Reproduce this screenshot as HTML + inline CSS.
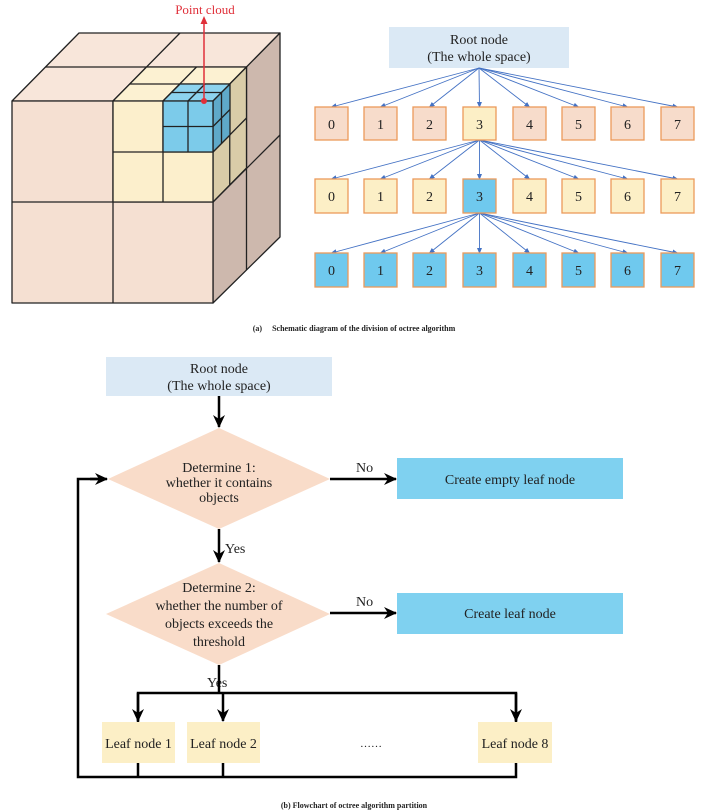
<!DOCTYPE html>
<html><head><meta charset="utf-8"><style>
html,body{margin:0;padding:0;background:#fff;}
svg{display:block;font-family:"Liberation Serif",serif;}
</style></head><body>
<svg width="708" height="812" viewBox="0 0 708 812" xmlns="http://www.w3.org/2000/svg">
<defs>
<marker id="ba" markerWidth="6" markerHeight="6" refX="5" refY="3" orient="auto" markerUnits="userSpaceOnUse"><path d="M0,0.5 L6,3 L0,5.5 z" fill="#4472c4"/></marker>
<marker id="ka" markerWidth="14" markerHeight="14" refX="12" refY="7" orient="auto" markerUnits="userSpaceOnUse"><path d="M0,1 L13,7 L0,13 L4,7 z" fill="#000"/></marker>
<marker id="ra" markerWidth="8" markerHeight="8" refX="4" refY="4" orient="auto" markerUnits="userSpaceOnUse"><path d="M0,0.5 L8,4 L0,7.5 z" fill="#e0303a"/></marker>
</defs>
<!-- Cube -->
<g stroke="#222" stroke-width="1.3" stroke-linejoin="round">
<polygon points="12,101 79,33 280,33 213,101" fill="#f8e6da"/>
<polygon points="213,101 280,33 280,237 213,303" fill="#cdb8ad"/>
<rect x="12" y="101" width="201" height="202" fill="#f5e0d2"/>
<line x1="113" y1="101" x2="113" y2="303"/>
<line x1="12" y1="202" x2="213" y2="202"/>
<line x1="45.5" y1="67" x2="246.5" y2="67"/>
<line x1="113" y1="101" x2="180" y2="33"/>
<line x1="246.5" y1="67" x2="246.5" y2="270"/>
<line x1="213" y1="202" x2="280" y2="135"/>
<polygon points="113,101 146.5,67 246.5,67 213,101" fill="#fcf1d2"/>
<polygon points="213,101 246.5,67 246.5,168 213,202" fill="#d9cca8"/>
<rect x="113" y="101" width="100" height="101" fill="#fcefcc"/>
<line x1="163" y1="101" x2="163" y2="202"/>
<line x1="113" y1="152" x2="213" y2="152"/>
<line x1="129.75" y1="84" x2="229.75" y2="84"/>
<line x1="163" y1="101" x2="196.5" y2="67"/>
<line x1="229.75" y1="84" x2="229.75" y2="185"/>
<line x1="213" y1="152" x2="246.5" y2="118"/>
<polygon points="163,101 180,84 230,84 213,101" fill="#8dd3ee"/>
<polygon points="213,101 230,84 230,135 213,152" fill="#5fa9c9"/>
<rect x="163" y="101" width="50" height="51" fill="#7ccbea"/>
<line x1="188" y1="101" x2="188" y2="152"/>
<line x1="163" y1="126.5" x2="213" y2="126.5"/>
<line x1="171.5" y1="92.5" x2="221.5" y2="92.5"/>
<line x1="188" y1="101" x2="205" y2="84"/>
<line x1="221.5" y1="92.5" x2="221.5" y2="143.5"/>
<line x1="213" y1="126.5" x2="230" y2="109.5"/>
</g>
<line x1="204" y1="101" x2="204" y2="20" stroke="#e0303a" stroke-width="1.5" marker-end="url(#ra)"/>
<circle cx="204" cy="101" r="3" fill="#e0303a"/>
<text x="205" y="14" font-size="13" fill="#e0303a" text-anchor="middle">Point cloud</text>

<!-- Tree -->
<rect x="389" y="27" width="180" height="41" fill="#dbe9f5"/>
<text x="479" y="44" font-size="14" text-anchor="middle" fill="#222">Root node</text>
<text x="479" y="61" font-size="14" text-anchor="middle" fill="#222">(The whole space)</text>
<g stroke="#4472c4" stroke-width="0.9" marker-end="url(#ba)">
<line x1="479" y1="68" x2="331.5" y2="107"/><line x1="479" y1="68" x2="380.5" y2="107"/><line x1="479" y1="68" x2="429.5" y2="107"/><line x1="479" y1="68" x2="479.5" y2="107"/><line x1="479" y1="68" x2="529.5" y2="107"/><line x1="479" y1="68" x2="578.5" y2="107"/><line x1="479" y1="68" x2="627.5" y2="107"/><line x1="479" y1="68" x2="677.5" y2="107"/>
<line x1="479.5" y1="140" x2="331.5" y2="179"/><line x1="479.5" y1="140" x2="380.5" y2="179"/><line x1="479.5" y1="140" x2="429.5" y2="179"/><line x1="479.5" y1="140" x2="479.5" y2="179"/><line x1="479.5" y1="140" x2="529.5" y2="179"/><line x1="479.5" y1="140" x2="578.5" y2="179"/><line x1="479.5" y1="140" x2="627.5" y2="179"/><line x1="479.5" y1="140" x2="677.5" y2="179"/>
<line x1="479.5" y1="213" x2="331.5" y2="253"/><line x1="479.5" y1="213" x2="380.5" y2="253"/><line x1="479.5" y1="213" x2="429.5" y2="253"/><line x1="479.5" y1="213" x2="479.5" y2="253"/><line x1="479.5" y1="213" x2="529.5" y2="253"/><line x1="479.5" y1="213" x2="578.5" y2="253"/><line x1="479.5" y1="213" x2="627.5" y2="253"/><line x1="479.5" y1="213" x2="677.5" y2="253"/>
</g>
<g stroke="#ec9a5a" stroke-width="1.3">
<rect x="315" y="107" width="33" height="33" fill="#f7dccb"/><rect x="364" y="107" width="33" height="33" fill="#f7dccb"/><rect x="413" y="107" width="33" height="33" fill="#f7dccb"/><rect x="463" y="107" width="33" height="33" fill="#fcefc6"/><rect x="513" y="107" width="33" height="33" fill="#f7dccb"/><rect x="562" y="107" width="33" height="33" fill="#f7dccb"/><rect x="611" y="107" width="33" height="33" fill="#f7dccb"/><rect x="661" y="107" width="33" height="33" fill="#f7dccb"/>
<rect x="315" y="179" width="33" height="34" fill="#fcefc6"/><rect x="364" y="179" width="33" height="34" fill="#fcefc6"/><rect x="413" y="179" width="33" height="34" fill="#fcefc6"/><rect x="463" y="179" width="33" height="34" fill="#6fc9ee"/><rect x="513" y="179" width="33" height="34" fill="#fcefc6"/><rect x="562" y="179" width="33" height="34" fill="#fcefc6"/><rect x="611" y="179" width="33" height="34" fill="#fcefc6"/><rect x="661" y="179" width="33" height="34" fill="#fcefc6"/>
<rect x="315" y="253" width="33" height="34" fill="#6fc9ee"/><rect x="364" y="253" width="33" height="34" fill="#6fc9ee"/><rect x="413" y="253" width="33" height="34" fill="#6fc9ee"/><rect x="463" y="253" width="33" height="34" fill="#6fc9ee"/><rect x="513" y="253" width="33" height="34" fill="#6fc9ee"/><rect x="562" y="253" width="33" height="34" fill="#6fc9ee"/><rect x="611" y="253" width="33" height="34" fill="#6fc9ee"/><rect x="661" y="253" width="33" height="34" fill="#6fc9ee"/>
</g>
<g font-size="14" text-anchor="middle" fill="#222">
<text x="331.5" y="129">0</text><text x="380.5" y="129">1</text><text x="429.5" y="129">2</text><text x="479.5" y="129">3</text><text x="529.5" y="129">4</text><text x="578.5" y="129">5</text><text x="627.5" y="129">6</text><text x="677.5" y="129">7</text>
<text x="331.5" y="201">0</text><text x="380.5" y="201">1</text><text x="429.5" y="201">2</text><text x="479.5" y="201">3</text><text x="529.5" y="201">4</text><text x="578.5" y="201">5</text><text x="627.5" y="201">6</text><text x="677.5" y="201">7</text>
<text x="331.5" y="275">0</text><text x="380.5" y="275">1</text><text x="429.5" y="275">2</text><text x="479.5" y="275">3</text><text x="529.5" y="275">4</text><text x="578.5" y="275">5</text><text x="627.5" y="275">6</text><text x="677.5" y="275">7</text>
</g>
<text x="354" y="331" font-size="8" font-weight="bold" text-anchor="middle" fill="#222" xml:space="preserve">(a)     Schematic diagram of the division of octree algorithm</text>

<!-- Flowchart -->
<rect x="106" y="357" width="226" height="39" fill="#dbe9f5"/>
<text x="219" y="373" font-size="14" text-anchor="middle" fill="#222">Root node</text>
<text x="219" y="390" font-size="14" text-anchor="middle" fill="#222">(The whole space)</text>
<polygon points="219,428 330,479 219,529 108,479" fill="#f9dcc9"/>
<polygon points="219,563 330,614 219,665 106,614" fill="#f9dcc9"/>
<g font-size="14" text-anchor="middle" fill="#222">
<text x="219" y="472">Determine 1:</text>
<text x="219" y="487">whether it contains</text>
<text x="219" y="502">objects</text>
<text x="219" y="592">Determine 2:</text>
<text x="219" y="610">whether the number of</text>
<text x="219" y="628">objects exceeds the</text>
<text x="219" y="646">threshold</text>
</g>
<rect x="397" y="458" width="226" height="41" fill="#7fd1f0"/>
<text x="510" y="484" font-size="14" text-anchor="middle" fill="#222">Create empty leaf node</text>
<rect x="397" y="593" width="226" height="41" fill="#7fd1f0"/>
<text x="510" y="618" font-size="14" text-anchor="middle" fill="#222">Create leaf node</text>
<g font-size="14" fill="#222">
<text x="356" y="472">No</text>
<text x="356" y="606">No</text>
<text x="225" y="553">Yes</text>
<text x="207" y="687">Yes</text>
</g>
<g stroke="#000" stroke-width="2.5" fill="none">
<line x1="219" y1="396" x2="219" y2="427" marker-end="url(#ka)"/>
<line x1="219" y1="529" x2="219" y2="562" marker-end="url(#ka)"/>
<line x1="330" y1="479" x2="396" y2="479" marker-end="url(#ka)"/>
<line x1="330" y1="613" x2="396" y2="613" marker-end="url(#ka)"/>
<polyline points="219,665 219,693"/>
<polyline points="138,722 138,693 516,693 516,722"/>
<line x1="138" y1="693" x2="138" y2="721" marker-end="url(#ka)"/>
<line x1="223" y1="693" x2="223" y2="721" marker-end="url(#ka)"/>
<line x1="516" y1="693" x2="516" y2="721" marker-end="url(#ka)"/>
<polyline points="138,763 138,777"/>
<polyline points="223,763 223,777"/>
<polyline points="516,763 516,777 78,777 78,479 100,479"/>
<line x1="90" y1="479" x2="107" y2="479" marker-end="url(#ka)"/>
</g>
<rect x="102" y="722" width="73" height="41" fill="#fcefc6"/>
<rect x="187" y="722" width="73" height="41" fill="#fcefc6"/>
<rect x="478" y="722" width="74" height="41" fill="#fcefc6"/>
<g font-size="14" text-anchor="middle" fill="#222">
<text x="138.5" y="748">Leaf node 1</text>
<text x="223.5" y="748">Leaf node 2</text>
<text x="515" y="748">Leaf node 8</text>
<text x="371" y="747" font-size="11">……</text>
</g>
<text x="354" y="808" font-size="8" font-weight="bold" text-anchor="middle" fill="#222">(b) Flowchart of octree algorithm partition</text>
</svg>
</body></html>
